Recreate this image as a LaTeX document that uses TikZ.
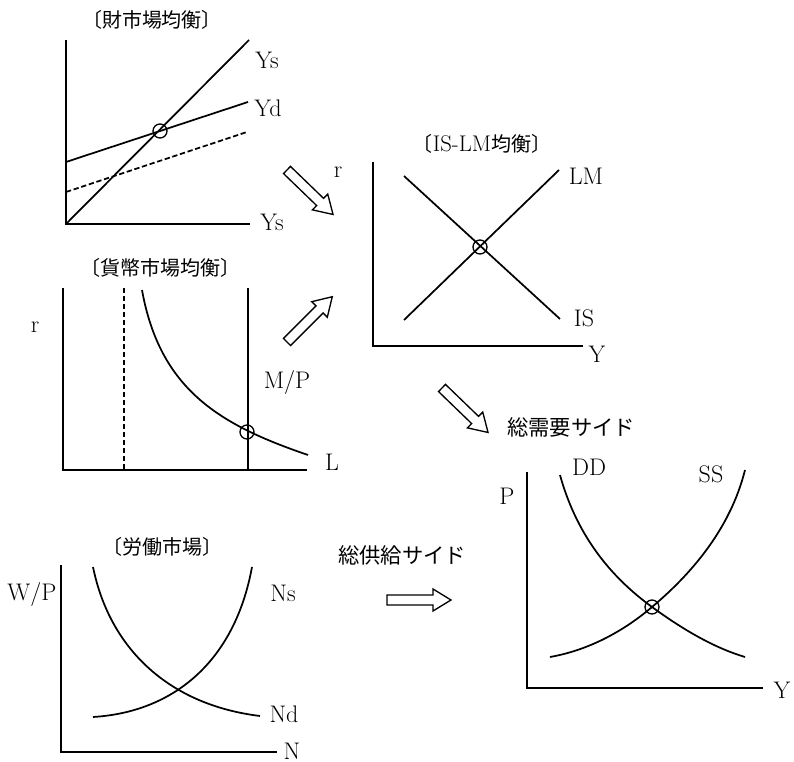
\documentclass[tikz,border=0pt]{standalone}
\usepackage{fontspec}
\newfontfamily\jpfont{Noto Sans CJK JP}
\usetikzlibrary{calc}
\tikzset{
  ax/.style={line width=1.3pt},
  crv/.style={line width=1.3pt},
  dsh/.style={line width=1.3pt,dash pattern=on 4pt off 2pt},
  eq/.style={circle,draw,line width=1pt,minimum size=10.5pt,inner sep=0pt},
  lbl/.style={font=\fontsize{18}{20}\selectfont,inner sep=0pt},
  ttl/.style={font=\jpfont\fontsize{15}{17}\selectfont,inner sep=0pt},
  side/.style={font=\jpfont\fontsize{16}{18}\selectfont,inner sep=0pt},
  hollowarrow/.pic={\draw[line width=1pt,fill=white] (0,5) -- (46,5) -- (46,11) -- (64,0) -- (46,-11) -- (46,-5) -- (0,-5) -- cycle;}
}

\begin{document}
\begin{tikzpicture}[x=0.75pt,y=-0.75pt]
\useasboundingbox (0,0) rectangle (794,762);

% goods market
\node[ttl] (gtitle) at (152,20) {〔財市場均衡〕};
\draw[ax] (66,40) |- (250,224);
\draw[crv] (66,224) -- (249,40);
\draw[crv] (66,162) -- (248,102);
\draw[dsh] (66,192) -- (247,132);
\node[eq] (ge) at (160,131) {};
\node[lbl] (gys) at (267,60) {Ys};
\node[lbl] (gyd) at (268,108) {Yd};
\node[lbl] (gx) at (272,222) {Ys};

% money market
\node[ttl] (mtitle) at (160,268) {〔貨幣市場均衡〕};
\draw[ax] (63,288) |- (307,470);
\draw[dsh] (124,288) -- (124,470);
\draw[line width=1pt] (248,288) -- (248,470);
\draw[crv] (142,290) .. controls (160,390) and (220,425) .. (308,455);
\node[eq] (me) at (247,432) {};
\node[lbl] (mr) at (35,327) {r};
\node[lbl] (mmp) at (287,383) {M/P};
\node[lbl] (ml) at (332,462) {L};

% IS-LM
\node[ttl] (istitle) at (482,144) {〔{\rmfamily\fontsize{17}{18}\selectfont IS-LM}均衡〕};
\draw[ax] (373,162) |- (583,346);
\draw[crv] (404,320) -- (559,170);
\draw[crv] (404,176) -- (560,319);
\node[eq] (ise) at (480,247) {};
\node[lbl] (isr) at (338,172) {r};
\node[lbl] (islm) at (586,176) {LM};
\node[lbl] (isis) at (584,318) {IS};
\node[lbl] (isy) at (597,354) {Y};

% labour market
\node[ttl] (ltitle) at (163,547) {〔労働市場〕};
\draw[ax] (61,565) |- (277,752);
\draw[crv] (93,567) .. controls (110,650) and (170,705) .. (260,716);
\draw[crv] (93,717) .. controls (175,712) and (235,660) .. (252,567);
\node[lbl] (lwp) at (32,595) {W/P};
\node[lbl] (lns) at (283,593) {Ns};
\node[lbl] (lnd) at (284,714) {Nd};
\node[lbl] (ln) at (292,751) {N};

% aggregate demand and supply
\node[side] (dtxt) at (571,427) {総需要サイド};
\node[side] (stxt) at (402,555) {総供給サイド};
\draw[ax] (527,472) |- (763,688);
\draw[crv] (560,475) .. controls (578,540) and (615,580) .. (652,607)
  .. controls (685,631) and (715,648) .. (745,657);
\draw[crv] (550,657) .. controls (590,650) and (625,630) .. (652,607)
  .. controls (690,575) and (730,530) .. (745,470);
\node[eq] (ade) at (652,607) {};
\node[lbl] (adp) at (507,496) {P};
\node[lbl] (addd) at (589,467) {DD};
\node[lbl] (adss) at (711,474) {SS};
\node[lbl] (ady) at (782,690) {Y};

% hollow arrows
\pic[rotate=-44] at (287,170) {hollowarrow};
\pic[rotate=45] at (287,342) {hollowarrow};
\pic[rotate=-44] at (442,388) {hollowarrow};
\pic at (387,600) {hollowarrow};
\end{tikzpicture}
\end{document}
